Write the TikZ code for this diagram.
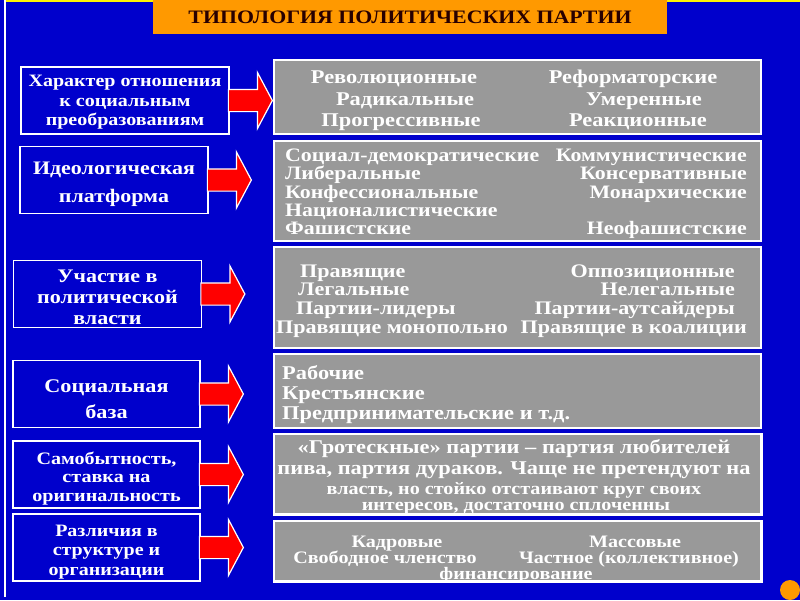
\documentclass[tikz,border=0pt]{standalone}
\usepackage{fontspec}
\setmainfont{Liberation Serif}[FakeStretch=1.15]
\usetikzlibrary{shapes.arrows}
\definecolor{slideblue}{RGB}{0,0,204}
\definecolor{boxgray}{RGB}{153,153,153}
\definecolor{titleorange}{RGB}{255,153,0}
\definecolor{titleink}{RGB}{40,0,0}
\newcommand{\fsz}[2]{\bfseries\fontsize{#1}{#2}\selectfont}
\tikzset{
    titlebox/.style={fill=titleorange, text=titleink, minimum width=514, minimum height=34,
        inner sep=0pt, font=\fsz{19}{22}},
    leftbox/.style={draw=white, line width=1.5pt, fill=slideblue, minimum height=67},
    lefttext/.style={text=white, align=center, inner sep=0pt},
    graybox/.style={draw=white, line width=1.5pt, fill=boxgray, minimum width=487},
    item/.style={text=white, inner sep=0pt, font=\fsz{19.5}{20}},
    small item/.style={item, font=\fsz{17.5}{18}},
    redarrow/.style={single arrow, fill=red, draw=white, line width=1.2pt, inner sep=0pt,
        inner ysep=10.5pt, single arrow head extend=17pt, single arrow tip angle=124,
        minimum height=44, anchor=tail}
}
\begin{document}
\begin{tikzpicture}[x=1pt, y=-1pt]
    \useasboundingbox (0,0) rectangle (800,600);
    \fill [slideblue] (0,0) rectangle (800,600);
    \fill [yellow] (5,0) rectangle (800,2);
    \draw [white, line width=1.5pt] (5,0) -- (5,597);
    \fill [titleorange] (790,590) circle (10pt);
    \node [titlebox] (title) at (410,17) {ТИПОЛОГИЯ ПОЛИТИЧЕСКИХ ПАРТИИ};

    % left column
    \foreach \n/\x/\y/\w in {1/125/100.5/208, 2/114/180/188, 3/107.5/294/188,
                             4/106.5/394/187, 5/106.5/474.5/187, 6/106.5/547.5/187}
        {\node [leftbox, minimum width=\w] (l\n) at (\x,\y) {};}
    \node [lefttext, font=\fsz{17.4}{19.5}] (l1t) at ([yshift=-2pt]l1.center)
        {Характер отношения\\к социальным\\преобразованиям};
    \node [lefttext, font=\fsz{19.1}{28}] (l2t) at ([yshift=-4.5pt]l2.center)
        {Идеологическая\\платформа};
    \node [lefttext, font=\fsz{19.2}{21}] (l3t) at ([yshift=-3.5pt]l3.center)
        {Участие в\\политической\\власти};
    \node [lefttext, font=\fsz{19.3}{25.5}] (l4t) at ([yshift=-5pt]l4.center)
        {Социальная\\база};
    \node [lefttext, font=\fsz{17.5}{18.7}] (l5t) at ([yshift=-4pt]l5.center)
        {Самобытность,\\ставка на\\оригинальность};
    \node [lefttext, font=\fsz{17.4}{19.3}] (l6t) at ([yshift=-4.5pt]l6.center)
        {Различия в\\структуре и\\организации};

    \foreach \n in {1,...,6}
        {\node [redarrow] (a\n) at ([xshift=-2pt]l\n.east) {};}

    % right column
    \foreach \n/\y/\h in {1/97/74, 2/191/100, 3/297.5/101, 4/391/74, 5/474/80, 6/551/60}
        {\node [graybox, minimum height=\h] (r\n) at (517.5,\y) {};}

    \foreach \i/\x/\y/\t in {1/394/81/Революционные, 2/405/103/Радикальные, 3/401/124/Прогрессивные,
                             4/633/81/Реформаторские, 5/644/103/Умеренные, 6/638/124/Реакционные}
        {\node [item, anchor=mid] (t1-\i) at (\x,\y) {\t};}

    \foreach \i/\y/\t in {1/159/Социал-демократические, 2/177/Либеральные, 3/196/Конфессиональные,
                          4/214/Националистические, 5/232/Фашистские}
        {\node [item, font=\fsz{19}{20}, anchor=mid west] (t2-\i) at (285,\y) {\t};}
    \foreach \i/\y/\t in {6/159/Коммунистические, 7/177/Консервативные, 8/196/Монархические,
                          9/232/Неофашистские}
        {\node [item, font=\fsz{19}{20}, anchor=mid east] (t2-\i) at (747,\y) {\t};}

    \foreach \i/\x/\y/\t in {1/300/275/Правящие, 2/298/293/Легальные, 3/296/312/Партии-лидеры,
                             4/276/331/Правящие монопольно}
        {\node [item, font=\fsz{19.2}{20}, anchor=mid west] (t3-\i) at (\x,\y) {\t};}
    \foreach \i/\x/\y/\t in {5/735/275/Оппозиционные, 6/735/293/Нелегальные, 7/735/312/Партии-аутсайдеры,
                             8/747/331/Правящие в коалиции}
        {\node [item, font=\fsz{19.2}{20}, anchor=mid east] (t3-\i) at (\x,\y) {\t};}

    \foreach \i/\y/\t in {1/377/Рабочие, 2/397/Крестьянские, 3/417/Предпринимательские и т.д.}
        {\node [item, anchor=mid west] (t4-\i) at (282,\y) {\t};}

    \begin{scope}
        \clip (r5.south west) rectangle (r5.north east);
        \node [item, anchor=mid] (t5-1) at (514,451) {«Гротескные» партии – партия любителей};
        \node [item, anchor=mid] (t5-2) at (514,472) {пива, партия дураков. Чаще не претендуют на};
        \node [small item, anchor=mid] (t5-3) at (514,492) {власть, но стойко отстаивают круг своих};
        \node [small item, anchor=mid] (t5-4) at (516,508) {интересов, достаточно сплоченны};
    \end{scope}
    \begin{scope}
        \clip (r6.south west) rectangle (r6.north east);
        \foreach \i/\x/\y/\t in {1/397/545/Кадровые, 2/635/545/Массовые, 3/385/561/Свободное членство,
                                 4/629/561/Частное (коллективное), 5/516/577/финансирование}
            {\node [small item, anchor=mid] (t6-\i) at (\x,\y) {\t};}
    \end{scope}
    \foreach \n in {5,6}
        {\draw [white, line width=1.5pt] (r\n.south west) rectangle (r\n.north east);}
\end{tikzpicture}
\end{document}
